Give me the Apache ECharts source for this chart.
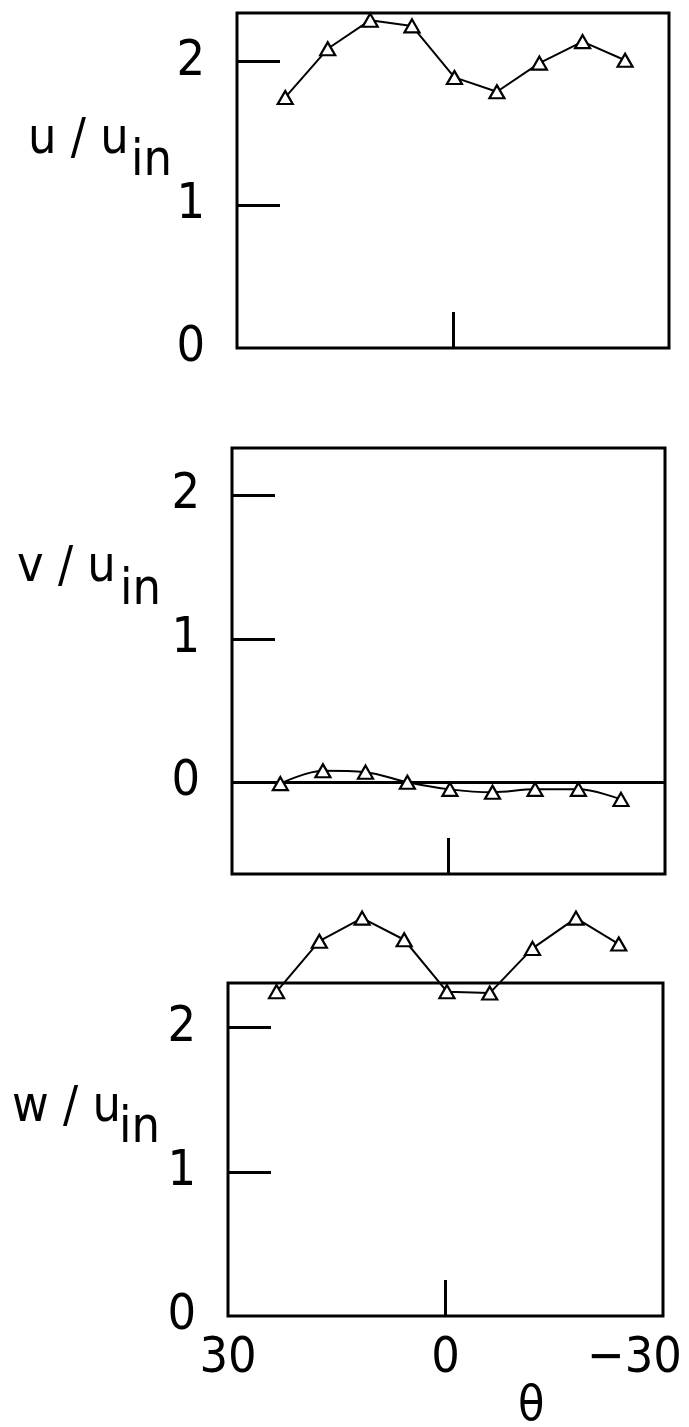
<!DOCTYPE html>
<html>
<head>
<meta charset="utf-8">
<script src="https://cdn.jsdelivr.net/npm/echarts@6/dist/echarts.min.js"></script>
<style>
html,body{margin:0;padding:0;background:#fff;}
#c{width:689px;height:1427px;}
</style>
</head>
<body>
<div id="c"></div>
<script>
// ---- data ----
var theta = [23.3, 17.4, 11.5, 5.7, -0.2, -6.1, -12.0, -18.0, -23.9];
var uVals = [1.75, 2.09, 2.29, 2.25, 1.89, 1.79, 1.99, 2.14, 2.01];
var vVals = [-0.01, 0.08, 0.07, 0.00, -0.05, -0.07, -0.05, -0.05, -0.12];
var wVals = [2.25, 2.60, 2.76, 2.61, 2.25, 2.24, 2.55, 2.76, 2.58];
var xTicks = [30, 0, -30];
var yLabelValues = [0, 1, 2];
var yTickValues = [1, 2];
var yNames = ['u / u', 'v / u', 'w / u'];
var subName = 'in';
var xName = 'θ';

var FONT = '"DejaVu Sans Condensed", "Liberation Sans Narrow", "DejaVu Sans", sans-serif';

var panels = [
  {vals: uVals, ymin: 0, ymax: 2.34, grid: {left: 237, top: 13, width: 432, height: 335}, smooth: false},
  {vals: vVals, ymin: -0.64, ymax: 2.33, grid: {left: 232, top: 448, width: 433, height: 426}, smooth: 0.35},
  {vals: wVals, ymin: 0, ymax: 2.31, grid: {left: 228, top: 983, width: 435, height: 333}, smooth: false}
];

var grids = [], xAxes = [], yAxes = [], series = [];
panels.forEach(function (p, i) {
  grids.push(Object.assign({show: true, borderColor: '#000', borderWidth: 3, backgroundColor: 'transparent', containLabel: false}, p.grid));
  xAxes.push({
    gridIndex: i, type: 'value', min: -30, max: 30, interval: 30, inverse: true,
    position: 'bottom',
    axisLine: {show: false, onZero: false},
    axisTick: {show: true, inside: true, length: 36, customValues: [0], lineStyle: {color: '#000', width: 3}},
    axisLabel: {
      show: i === 2, showMinLabel: true, showMaxLabel: true, margin: 18,
      color: '#000', fontSize: 50, fontFamily: FONT,
      formatter: function (v) { return v < 0 ? '{n|−' + Math.abs(v) + '}' : String(v); },
      rich: {n: {fontSize: 50, fontFamily: FONT, color: '#000', padding: [0, 57, 0, 0]}}
    },
    splitLine: {show: false}
  });
  yAxes.push({
    gridIndex: i, type: 'value', min: p.ymin, max: p.ymax,
    position: 'left',
    axisLine: {show: false, onZero: false},
    axisTick: {show: true, inside: true, length: 43, customValues: yTickValues, lineStyle: {color: '#000', width: 3}},
    axisLabel: {show: true, customValues: yLabelValues, margin: 32, color: '#000', fontSize: 50, fontFamily: FONT},
    splitLine: {show: false}
  });
  var s = {
    type: 'line', xAxisIndex: i, yAxisIndex: i,
    data: theta.map(function (t, k) { return [t, p.vals[k]]; }),
    symbol: 'triangle', symbolSize: [15, 13], showAllSymbol: true,
    itemStyle: {color: '#fff', borderColor: '#000', borderWidth: 2.2},
    lineStyle: {color: '#000', width: 2},
    smooth: p.smooth, clip: false, z: 5
  };
  if (i === 1) {
    s.markLine = {silent: true, symbol: ['none', 'none'], label: {show: false},
      lineStyle: {color: '#000', width: 3, type: 'solid'}, data: [{yAxis: 0}]};
  }
  series.push(s);
});

var titlePos = [
  {x: 28, base: 157, sx: 131, sbase: 179},
  {x: 17, base: 585, sx: 120, sbase: 608},
  {x: 12, base: 1125, sx: 119, sbase: 1146}
];
var graphics = [];
titlePos.forEach(function (t, i) {
  graphics.push({type: 'text', left: t.x, top: t.base - 42, style: {text: yNames[i], font: '50px ' + FONT, fill: '#000'}});
  graphics.push({type: 'text', left: t.sx, top: t.sbase - 42, style: {text: subName, font: '50px ' + FONT, fill: '#000'}});
});
graphics.push({type: 'text', left: 518, top: 1384, style: {text: xName, font: '48px ' + FONT, fill: '#000'}});

var chart = echarts.init(document.getElementById('c'), null, {renderer: 'canvas'});
chart.setOption({
  animation: false,
  backgroundColor: '#fff',
  grid: grids, xAxis: xAxes, yAxis: yAxes, series: series,
  graphic: graphics
});
</script>
</body>
</html>
